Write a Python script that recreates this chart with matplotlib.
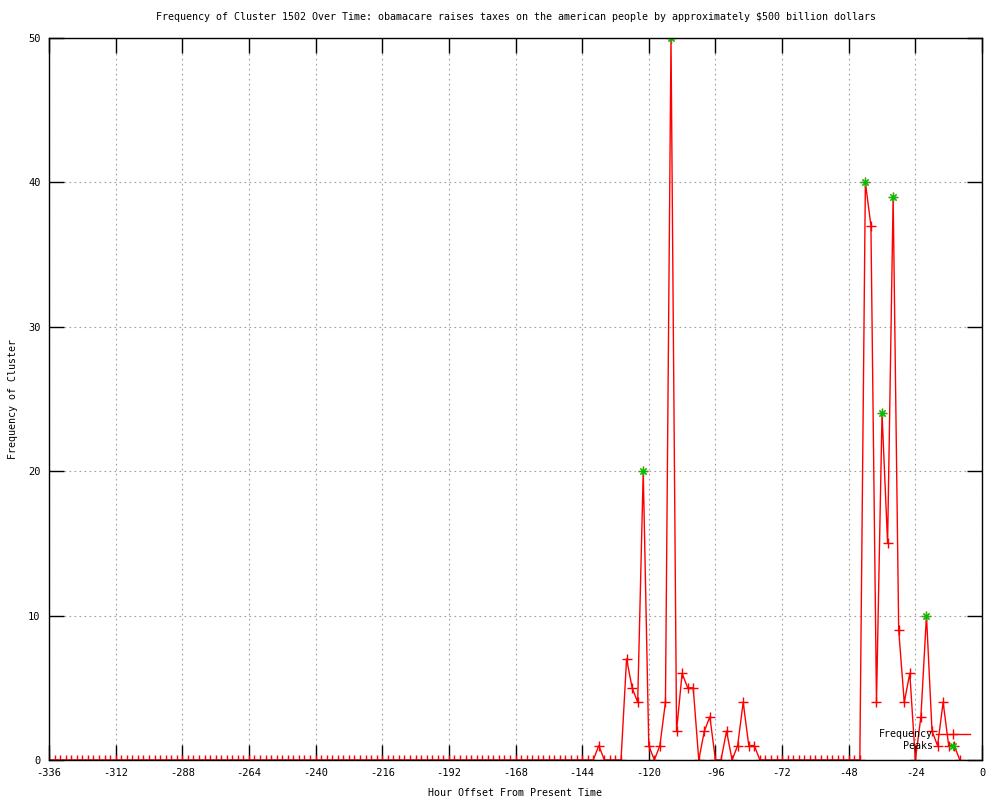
import numpy as np
import matplotlib
matplotlib.use("Agg")
import matplotlib.pyplot as plt

# hour offsets, one sample every 2 hours (-336 .. -8)
hours = np.arange(-336, -7, 2)

# cluster frequency, one row per day (12 samples)
frequency = [
    0, 0, 0, 0, 0, 0, 0, 0, 0, 0, 0, 0,     # -336
    0, 0, 0, 0, 0, 0, 0, 0, 0, 0, 0, 0,     # -312
    0, 0, 0, 0, 0, 0, 0, 0, 0, 0, 0, 0,     # -288
    0, 0, 0, 0, 0, 0, 0, 0, 0, 0, 0, 0,     # -264
    0, 0, 0, 0, 0, 0, 0, 0, 0, 0, 0, 0,     # -240
    0, 0, 0, 0, 0, 0, 0, 0, 0, 0, 0, 0,     # -216
    0, 0, 0, 0, 0, 0, 0, 0, 0, 0, 0, 0,     # -192
    0, 0, 0, 0, 0, 0, 0, 0, 0, 0, 0, 0,     # -168
    0, 0, 0, 1, 0, 0, 0, 0, 7, 5, 4, 20,    # -144
    1, 0, 1, 4, 50, 2, 6, 5, 5, 0, 2, 3,    # -120
    0, 0, 2, 0, 1, 4, 1, 1, 0, 0, 0, 0,     # -96
    0, 0, 0, 0, 0, 0, 0, 0, 0, 0, 0, 0,     # -72
    0, 0, 0, 40, 37, 4, 24, 15, 39, 9, 4, 6,  # -48
    0, 3, 10, 2, 1, 4, 1, 1, 0,             # -24
]

# detected peaks
peak_hours = [-122, -112, -42, -36, -32, -20]
peak_values = [20, 50, 40, 24, 39, 10]

title = ("Frequency of Cluster 1502 Over Time: obamacare raises taxes on the "
         "american people by approximately $500 billion dollars")

plt.rcParams['font.family'] = ['DejaVu Sans Mono']
plt.rcParams['axes.unicode_minus'] = False

fig = plt.figure(figsize=(10, 8), dpi=100)
ax = fig.add_axes([0.049, 0.05, 0.933, 0.9025])

ax.plot(hours, frequency, color='red', linewidth=1, marker='+',
        markersize=7, markeredgewidth=1, label='Frequency')
ax.plot(peak_hours, peak_values, linestyle='none', marker=(8, 2, 0),
        markersize=6, markeredgewidth=0.8, color='#00c000', label='Peaks')

ax.set_xlim(-336, 0)
ax.set_ylim(0, 50)
ax.set_xticks(np.arange(-336, 1, 24))
ax.set_yticks(range(0, 51, 10))
ax.grid(True, color='#a0a0a0', linestyle=(0, (1.5, 3)), linewidth=0.8)
ax.tick_params(direction='in', length=11, width=1, top=True, right=True,
               labelsize=7.5, pad=6)
for s in ax.spines.values():
    s.set_linewidth(1)

ax.set_title(title, fontsize=7.2, pad=13)
ax.set_xlabel("Hour Offset From Present Time", fontsize=7.2, labelpad=7)
ax.set_ylabel("Frequency of Cluster", fontsize=7.2, labelpad=7)

ax.legend(loc='lower right', bbox_to_anchor=(0.987, 0.012), markerfirst=False,
          frameon=False, numpoints=1, handlelength=3.4, handletextpad=0.3,
          labelspacing=0.2, borderpad=0, borderaxespad=0, fontsize=7.2)

fig.savefig("out.png", dpi=100)
